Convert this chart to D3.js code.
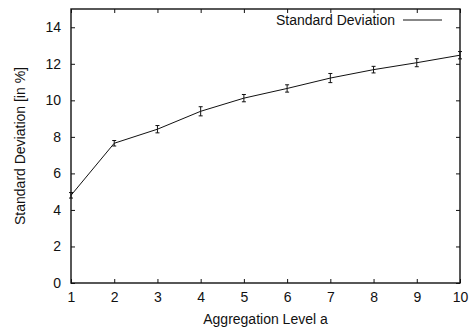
<!DOCTYPE html>
<html>
<head>
<meta charset="utf-8">
<script src="https://cdn.jsdelivr.net/npm/d3@7"></script>
<style>
  body { margin: 0; background: white; }
  text { font-family: "Liberation Sans", Arial, sans-serif; fill: #111; }
</style>
</head>
<body>
<svg id="chart" width="472" height="328"></svg>
<script>
// aggregation level vs. standard deviation
const levels = [1, 2, 3, 4, 5, 6, 7, 8, 9, 10];
const stdDev = [4.8, 7.65, 8.42, 9.4, 10.12, 10.65, 11.22, 11.68, 12.06, 12.47];
const errBar = [0.15, 0.15, 0.2, 0.25, 0.2, 0.2, 0.25, 0.18, 0.22, 0.2];
const yTicks = [0, 2, 4, 6, 8, 10, 12, 14];
const xTicks = [1, 2, 3, 4, 5, 6, 7, 8, 9, 10];

const svg = d3.select("#chart");
const margin = { left: 71, right: 12, top: 9, bottom: 45 };
const W = 472, H = 328;
const fs = 14;

const x = d3.scaleLinear().domain([1, 10]).range([margin.left, W - margin.right]);
const y = d3.scaleLinear().domain([0, 15]).range([H - margin.bottom, margin.top]);

const tickLen = 4;

//bottom axis + labels
let g = svg.append("g").attr("transform", `translate(0,${y(0)})`)
  .call(d3.axisBottom(x).tickValues(xTicks).tickSizeInner(-tickLen).tickSizeOuter(0).tickPadding(9).tickFormat(d3.format("d")));
g.select(".domain").remove();
g.selectAll("text").attr("font-size", fs).style("font-family", "Liberation Sans, Arial, sans-serif");

//top ticks
g = svg.append("g").attr("transform", `translate(0,${y(15)})`)
  .call(d3.axisTop(x).tickValues(xTicks).tickSizeInner(-tickLen).tickSizeOuter(0).tickFormat(""));
g.select(".domain").remove();

//left axis
g = svg.append("g").attr("transform", `translate(${x(1)},0)`)
  .call(d3.axisLeft(y).tickValues(yTicks).tickSizeInner(-tickLen).tickSizeOuter(0).tickPadding(10));
g.select(".domain").remove();
g.selectAll("text").attr("font-size", fs).style("font-family", "Liberation Sans, Arial, sans-serif");

//right ticks
g = svg.append("g").attr("transform", `translate(${x(10)},0)`)
  .call(d3.axisRight(y).tickValues(yTicks).tickSizeInner(-tickLen).tickSizeOuter(0).tickFormat(""));
g.select(".domain").remove();

svg.selectAll(".tick line").attr("stroke", "#111").attr("stroke-width", 1);

//frame
svg.append("rect")
  .attr("x", x(1)).attr("y", y(15))
  .attr("width", x(10) - x(1)).attr("height", y(0) - y(15))
  .attr("fill", "none").attr("stroke", "#111").attr("stroke-width", 1.4);

//data line
const line = d3.line().x((d, i) => x(levels[i])).y(d => y(d));
svg.append("path").datum(stdDev)
  .attr("d", line).attr("fill", "none").attr("stroke", "#111").attr("stroke-width", 1);

//error bars
const eb = svg.append("g").attr("stroke", "#111").attr("stroke-width", 1);
levels.forEach((lv, i) => {
  const cx = x(lv), y1 = y(stdDev[i] - errBar[i]), y2 = y(stdDev[i] + errBar[i]);
  eb.append("line").attr("x1", cx).attr("x2", cx).attr("y1", y1).attr("y2", y2);
  eb.append("line").attr("x1", cx - 2).attr("x2", cx + 2).attr("y1", y1).attr("y2", y1);
  eb.append("line").attr("x1", cx - 2).attr("x2", cx + 2).attr("y1", y2).attr("y2", y2);
});

//legend
svg.append("text").attr("x", 395).attr("y", 25).attr("text-anchor", "end")
  .attr("font-size", fs).text("Standard Deviation");
svg.append("line").attr("x1", 403).attr("x2", 442).attr("y1", 20).attr("y2", 20)
  .attr("stroke", "#111").attr("stroke-width", 1);

//axis titles
svg.append("text").attr("x", (x(1) + x(10)) / 2).attr("y", 324).attr("text-anchor", "middle")
  .attr("font-size", fs).text("Aggregation Level a");
svg.append("text")
  .attr("transform", `translate(25,${(y(0) + y(15)) / 2}) rotate(-90)`)
  .attr("text-anchor", "middle").attr("font-size", fs).text("Standard Deviation [in %]");
</script>
</body>
</html>
